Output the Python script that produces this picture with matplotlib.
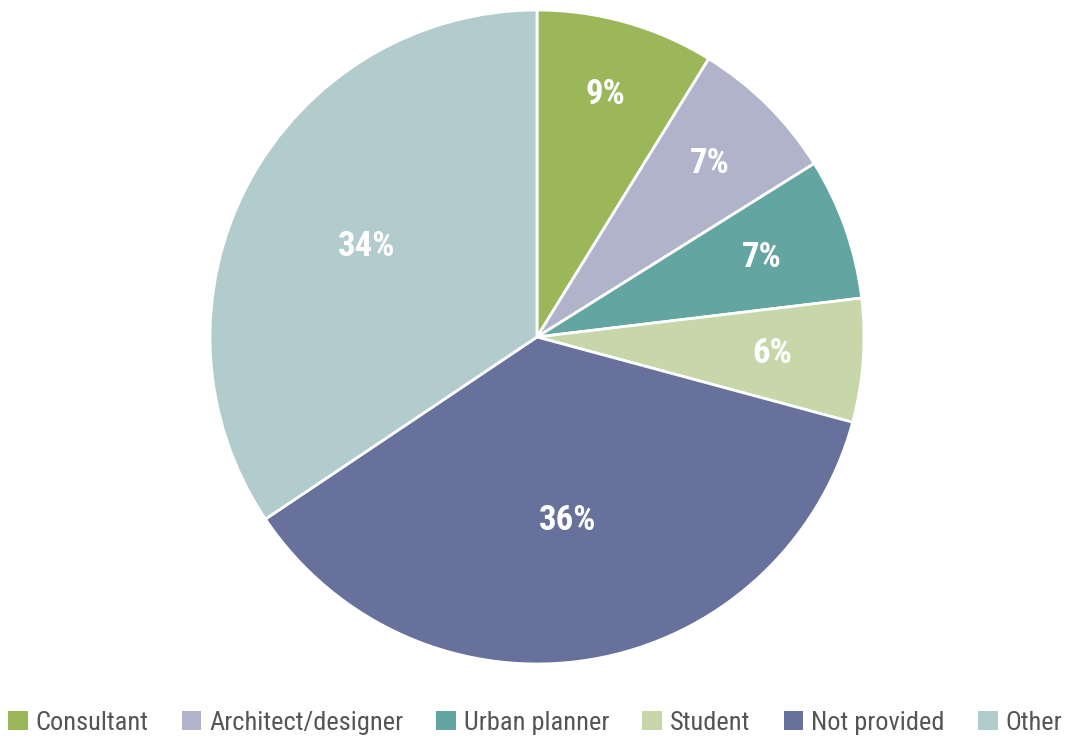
import matplotlib
matplotlib.use("Agg")
import matplotlib.pyplot as plt
from matplotlib.patches import Patch
from matplotlib import font_manager
import numpy as np

categories = ["Consultant", "Architect/designer", "Urban planner", "Student", "Not provided", "Other"]
values = [8.8, 7.3, 7.0, 6.1, 36.4, 34.4]
colors = ["#9bb75a", "#b1b3cb", "#62a5a1", "#c8d7aa", "#68719b", "#b2cbcc"]
label_dist = [0.77, 0.75, 0.73, 0.72, 0.57, 0.59]

names = {f.name for f in font_manager.fontManager.ttflist}
fam = ["Roboto Condensed", "Liberation Sans Narrow", "Archivo Narrow", "Barlow Semi Condensed", "DejaVu Sans"]
fam = [f for f in fam if f in names] or ["DejaVu Sans"]
plt.rcParams["font.family"] = fam

W, H = 1070, 742
fig = plt.figure(figsize=(W / 100, H / 100), dpi=100)
cx, cy, r = 537, 337, 327
ax = fig.add_axes([(cx - r) / W, (H - cy - r) / H, 2 * r / W, 2 * r / H])

wedges, _ = ax.pie(values, colors=colors, startangle=90, counterclock=False,
                   radius=1, wedgeprops=dict(edgecolor="white", linewidth=2))
for w, v, d in zip(wedges, values, label_dist):
    ang = np.deg2rad((w.theta1 + w.theta2) / 2)
    ax.text(d * np.cos(ang), d * np.sin(ang), f"{v:.0f}%", ha="center", va="center",
            color="white", fontsize=25, fontweight="bold")
ax.set_xlim(-1, 1)
ax.set_ylim(-1, 1)
ax.set_aspect("equal")
ax.axis("off")

handles = [Patch(facecolor=c, edgecolor="none") for c in colors]
fig.legend(handles, categories, loc="center", bbox_to_anchor=(0.5, 1 - 723 / H), ncol=6,
           frameon=False, fontsize=19, labelcolor="#555555", handlelength=0.75,
           handleheight=0.75, handletextpad=0.3, columnspacing=1.25, borderaxespad=0)

fig.savefig("out.png", dpi=100)
